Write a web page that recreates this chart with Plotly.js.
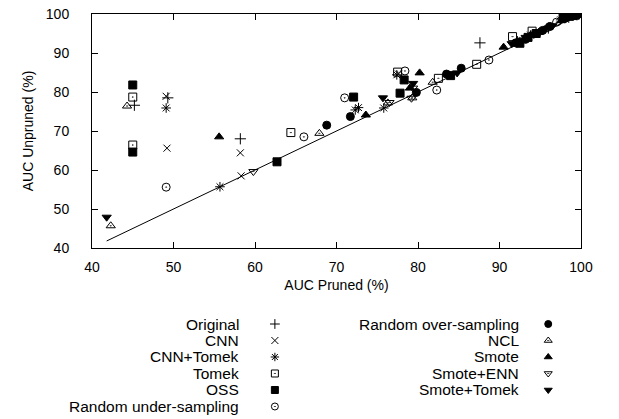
<!DOCTYPE html>
<html>
<head>
<meta charset="utf-8">
<script src="https://cdn.plot.ly/plotly-3.0.1.min.js"></script>
<style>html,body{margin:0;padding:0;background:#fff;}#chart{width:619px;height:419px;}</style>
</head>
<body>
<div id="chart"></div>
<script>
// ---- data (AUC Pruned %, AUC Unpruned %) ----
const seriesNames = ["Original","CNN","CNN+Tomek","Tomek","OSS","Random under-sampling",
  "Random over-sampling","NCL","Smote","Smote+ENN","Smote+Tomek"];

const originalX = [45.2, 49.3, 58.2, 87.6, 92.2, 96.0, 98.5, 99.5];
const originalY = [76.6, 78.5, 68.0, 92.6, 92.9, 96.4, 99.2, 99.8];

const cnnX = [49.1, 49.2, 58.2, 58.3, 77.6, 94.5, 98.0, 99.6];
const cnnY = [78.9, 65.6, 64.4, 58.5, 84.6, 95.2, 98.8, 99.9];

const cnnTomekX = [49.1, 55.7, 72.3, 72.7, 75.8, 77.4, 92.5, 93.8, 97.5, 99.7];
const cnnTomekY = [75.9, 55.7, 75.4, 76.0, 75.9, 84.4, 92.9, 94.6, 98.5, 99.9];

const tomekX = [45.0, 45.0, 64.4, 77.5, 82.5, 87.2, 91.6, 94.0, 99.0];
const tomekY = [78.7, 66.4, 69.6, 85.1, 83.5, 87.1, 94.2, 95.6, 99.6];

const ossX = [45.0, 45.0, 62.7, 72.1, 77.8, 78.3, 84.0, 92.5, 93.5, 94.5, 97.8, 98.6, 99.3];
const ossY = [81.8, 64.6, 62.1, 78.7, 79.7, 83.1, 84.2, 92.5, 94.0, 95.0, 99.0, 99.4, 99.7];

const rusX = [49.1, 66.0, 71.0, 78.4, 82.3, 88.7, 97.0, 99.5];
const rusY = [55.6, 68.5, 78.5, 85.4, 80.5, 88.2, 97.9, 99.8];

const rosX = [68.8, 71.7, 79.8, 83.5, 85.3, 92.0, 93.2, 95.3, 96.2, 98.2, 99.0, 99.8];
const rosY = [71.5, 73.7, 79.9, 84.6, 86.1, 92.6, 93.5, 95.8, 96.8, 99.1, 99.6, 100.0];

const nclX = [44.3, 42.3, 67.9, 76.3, 79.3, 81.8, 95.5, 98.8];
const nclY = [76.4, 45.7, 69.4, 77.2, 78.5, 82.5, 96.0, 99.5];

const smoteX = [55.6, 73.6, 79.0, 80.2, 90.5, 93.8, 94.8, 95.8, 97.6, 98.5];
const smoteY = [68.5, 74.1, 81.0, 84.9, 91.5, 94.5, 95.3, 96.5, 98.3, 99.3];

const smoteEnnX = [59.8, 76.5, 79.2, 79.4, 95.0, 99.2];
const smoteEnnY = [59.6, 77.3, 78.4, 81.0, 95.5, 99.7];

const smoteTomekX = [41.8, 75.7, 79.4, 84.8, 91.5, 92.8, 93.2, 94.2, 96.5, 98.0, 98.9, 99.4];
const smoteTomekY = [47.9, 78.5, 82.2, 84.9, 92.4, 93.3, 94.0, 94.8, 97.0, 98.9, 99.6, 99.8];

const diagX = [41.8, 100];
const diagY = [41.8, 100];

const axisTicks = [40, 50, 60, 70, 80, 90, 100];

// ---- styles ----
const seriesX = [originalX, cnnX, cnnTomekX, tomekX, ossX, rusX, rosX, nclX, smoteX, smoteEnnX, smoteTomekX];
const seriesY = [originalY, cnnY, cnnTomekY, tomekY, ossY, rusY, rosY, nclY, smoteY, smoteEnnY, smoteTomekY];
const symbols = ["cross-thin-open","x-thin-open","asterisk-open","square-open-dot","square","circle-open-dot",
  "circle","triangle-up-open-dot","triangle-up","triangle-down-open-dot","triangle-down"];
const sizes = [8, 7, 8, 8, 8, 8, 8, 8, 8, 8, 8];

const FONT = "Liberation Sans, Arial, Helvetica, sans-serif";
const traces = [];
traces.push({x: diagX, y: diagY, mode: "lines", line: {color: "#000", width: 1}, hoverinfo: "skip", showlegend: false});

seriesNames.forEach((name, i) => {
  traces.push({
    x: seriesX[i], y: seriesY[i], mode: "markers", name: name, showlegend: false,
    marker: {symbol: symbols[i], size: sizes[i], color: "#000", line: {color: "#000", width: 1}}
  });
});

// custom legend (label on the left, symbol on the right), drawn on a hidden axis pair
const annotations = [];
seriesNames.forEach((name, i) => {
  const col = i < 6 ? 0 : 1;
  const row = i < 6 ? i : i - 6;
  const symX = col === 0 ? 0.374 : 0.933;
  const labX = col === 0 ? 0.305 : 0.877;
  traces.push({
    x: [symX], y: [row], xaxis: "x2", yaxis: "y2", mode: "markers", showlegend: false, hoverinfo: "skip",
    marker: {symbol: symbols[i], size: 7, color: "#000", line: {color: "#000", width: 1}}
  });
  annotations.push({x: labX, y: row, xref: "x2", yref: "y2", text: name, showarrow: false,
    xanchor: "right", yanchor: "middle", font: {family: FONT, size: 15.5, color: "#000"}});
});

const axisCommon = {
  range: [40, 100], tickvals: axisTicks, ticks: "inside", ticklen: 6, tickwidth: 1, tickcolor: "#000",
  showline: true, linecolor: "#000", linewidth: 1, mirror: "ticks", showgrid: false, zeroline: false,
  tickfont: {family: FONT, size: 14, color: "#000"}
};

const layout = {
  width: 619, height: 419,
  margin: {l: 92, r: 38, t: 14, b: 5},
  paper_bgcolor: "#fff", plot_bgcolor: "#fff",
  showlegend: false,
  xaxis: Object.assign({}, axisCommon, {domain: [0, 1], anchor: "y", ticklabelstandoff: 6,
    title: {text: "AUC Pruned (%)", font: {family: FONT, size: 14, color: "#000"}, standoff: 6}}),
  yaxis: Object.assign({}, axisCommon, {domain: [0.415, 1], anchor: "x", ticklabelstandoff: 19,
    title: {text: "AUC Unpruned (%)", font: {family: FONT, size: 14, color: "#000"}, standoff: 8}}),
  xaxis2: {domain: [0, 1], range: [0, 1], anchor: "y2", visible: false, fixedrange: true},
  yaxis2: {domain: [0, 0.3], range: [5.455, -1.818], anchor: "x2", visible: false, fixedrange: true},
  annotations: annotations
};

Plotly.newPlot("chart", traces, layout, {displayModeBar: false, staticPlot: true});
</script>
</body>
</html>
